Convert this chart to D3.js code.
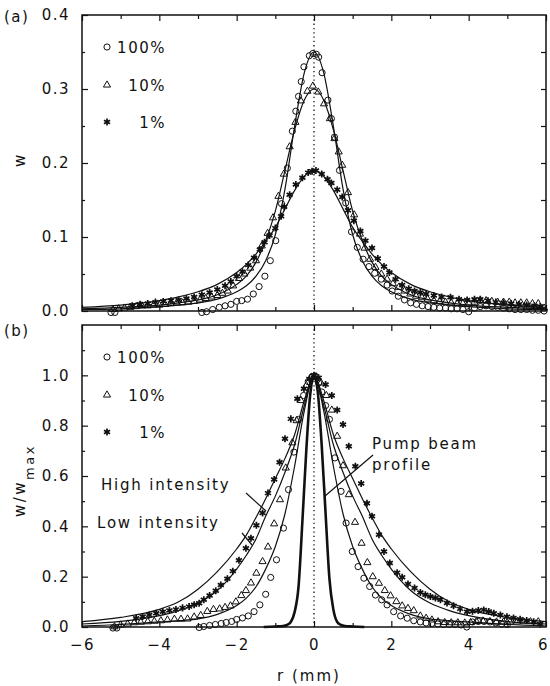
<!DOCTYPE html>
<html>
<head>
<meta charset="utf-8">
<script src="https://cdn.jsdelivr.net/npm/d3@7"></script>
<style>
body { margin: 0; background: #fff; }
svg text { font-family: "DejaVu Sans", sans-serif; font-size: 15px; letter-spacing: 1.5px; fill: #111; }
</style>
</head>
<body>
<svg width="550" height="686"></svg>
<script>
// ---- data ----
var xMajor = [-6, -4, -2, 0, 2, 4, 6],
    xMinor = [-5, -3, -1, 1, 3, 5];
var legendLabels = ["100%", "10%", "1%"];

// fitted curves, (a) absolute and (b) normalised
var rFit = [-6,-5,-4,-3.5,-3,-2.5,-2,-1.75,-1.5,-1.25,-1,-0.75,-0.5,-0.25,0,0.25,0.5,0.75,1,1.25,1.5,1.75,2,2.5,3,3.5,4,5,6];
var aFit100 = [0.002,0.003,0.006,0.008,0.011,0.016,0.026,0.034,0.047,0.068,0.103,0.165,0.25,0.322,0.35,0.322,0.25,0.165,0.103,0.068,0.047,0.034,0.026,0.016,0.011,0.008,0.006,0.003,0.002];
var aFit10 = [0.003,0.005,0.008,0.011,0.015,0.022,0.036,0.047,0.066,0.095,0.135,0.19,0.245,0.285,0.30,0.285,0.245,0.19,0.135,0.095,0.066,0.047,0.036,0.022,0.015,0.011,0.008,0.005,0.003];
var aFit1 = [0.005,0.008,0.014,0.019,0.026,0.036,0.052,0.063,0.077,0.094,0.113,0.138,0.163,0.182,0.19,0.182,0.163,0.138,0.113,0.094,0.077,0.063,0.052,0.036,0.026,0.019,0.014,0.008,0.005];
var bFitOuter = [0.021,0.038,0.07,0.1,0.15,0.22,0.31,0.365,0.435,0.51,0.59,0.67,0.765,0.9,1.0,0.9,0.765,0.67,0.59,0.51,0.435,0.365,0.31,0.22,0.15,0.1,0.07,0.038,0.021];
var bFitMid = [0.012,0.022,0.045,0.065,0.095,0.145,0.23,0.285,0.35,0.44,0.52,0.615,0.725,0.88,1.0,0.88,0.725,0.615,0.52,0.44,0.35,0.285,0.23,0.145,0.095,0.065,0.045,0.022,0.012];
var bFitInner = [0.004,0.01,0.02,0.025,0.032,0.05,0.085,0.115,0.16,0.23,0.32,0.45,0.64,0.86,1.0,0.86,0.64,0.45,0.32,0.23,0.16,0.115,0.085,0.05,0.032,0.025,0.02,0.01,0.004];
var pumpR = [-1.3,-1.0,-0.8,-0.7,-0.6,-0.5,-0.4,-0.3,-0.2,-0.1,0,0.1,0.2,0.3,0.4,0.5,0.6,0.7,0.8,1.0,1.3];
var pumpW = [0,0.002,0.004,0.008,0.02,0.06,0.16,0.42,0.7,0.92,1.0,0.93,0.72,0.45,0.19,0.07,0.02,0.008,0.004,0.002,0];

// (a) measured points
var aCircR = [-5.25,-5.15,-2.9,-2.78,-2.62,-2.45,-2.3,-2.15,-2.0,-1.87,-1.72,-1.57,-1.42,-1.27,-1.13,-0.99,-0.84,-0.69,-0.56,-0.47,-0.4,-0.33,-0.26,-0.12,-0.03,0.06,0.12,0.21,0.36,0.45,0.53,0.66,0.82,0.97,1.12,1.27,1.42,1.57,1.74,1.89,2.02,2.18,2.34,2.5,2.65,2.8,2.95,3.1,3.25,3.4,3.55,3.7,3.85,4.0,4.15,4.3,4.45,4.6,4.75,4.9,5.05,5.2,5.35,5.5,5.65,5.8,5.95];
var aCircW = [-0.002,-0.002,-0.002,-0.001,0.002,0.005,0.007,0.009,0.013,0.014,0.016,0.023,0.033,0.047,0.068,0.095,0.145,0.193,0.243,0.27,0.29,0.31,0.33,0.345,0.348,0.347,0.343,0.322,0.285,0.26,0.235,0.19,0.146,0.107,0.086,0.07,0.06,0.051,0.043,0.035,0.027,0.02,0.015,0.011,0.009,0.007,0.006,0.005,0.004,0.004,0.003,0.003,0.002,-0.001,0.004,0.006,0.007,0.006,0.005,0.004,0.003,0.002,0.002,0.002,0.001,0.001,0.0];
var aTriR = [-5.2,-5.05,-4.9,-4.75,-4.6,-4.45,-4.3,-4.15,-4.0,-3.85,-3.7,-3.55,-3.4,-3.25,-3.1,-2.95,-2.8,-2.65,-2.5,-2.37,-2.23,-2.09,-1.94,-1.8,-1.65,-1.5,-1.35,-1.2,-1.06,-0.92,-0.78,-0.63,-0.48,-0.34,-0.17,-0.03,0.11,0.26,0.41,0.53,0.64,0.73,0.88,1.04,1.19,1.31,1.45,1.59,1.74,1.89,2.04,2.19,2.34,2.49,2.64,2.79,2.94,3.1,3.25,3.4,3.55,3.7,3.85,4.0,4.15,4.3,4.45,4.6,4.75,4.9,5.05,5.2,5.35,5.5,5.65,5.8,5.95];
var aTriW = [0.002,0.003,0.004,0.005,0.006,0.007,0.007,0.008,0.008,0.009,0.01,0.011,0.011,0.012,0.013,0.015,0.017,0.019,0.021,0.024,0.027,0.034,0.044,0.05,0.058,0.068,0.088,0.105,0.126,0.155,0.185,0.222,0.255,0.284,0.297,0.304,0.296,0.28,0.26,0.233,0.215,0.197,0.16,0.13,0.104,0.085,0.07,0.059,0.05,0.043,0.037,0.032,0.027,0.023,0.02,0.018,0.016,0.014,0.013,0.012,0.011,0.01,0.01,0.011,0.012,0.014,0.014,0.013,0.012,0.012,0.012,0.011,0.011,0.011,0.01,0.01,0.004];
var aStarR = [-4.7,-4.5,-4.3,-4.1,-3.9,-3.7,-3.5,-3.3,-3.1,-2.9,-2.7,-2.5,-2.3,-2.15,-2.0,-1.85,-1.7,-1.55,-1.4,-1.28,-1.15,-1.0,-0.85,-0.77,-0.63,-0.47,-0.3,-0.15,-0.05,0.05,0.2,0.35,0.45,0.6,0.73,0.88,1.03,1.2,1.33,1.5,1.65,1.81,1.95,2.11,2.28,2.45,2.6,2.75,2.9,3.1,3.3,3.53,3.75,3.96,4.15,4.3,4.5,4.7,4.9,5.1,5.3,5.5,5.7,5.85];
var aStarW = [0.007,0.009,0.01,0.012,0.013,0.014,0.015,0.017,0.019,0.022,0.025,0.029,0.034,0.04,0.047,0.053,0.062,0.072,0.083,0.093,0.102,0.112,0.128,0.141,0.157,0.171,0.18,0.187,0.189,0.19,0.185,0.178,0.173,0.164,0.154,0.136,0.122,0.108,0.095,0.085,0.071,0.06,0.052,0.043,0.035,0.03,0.027,0.025,0.023,0.021,0.019,0.0185,0.016,0.015,0.016,0.016,0.014,0.012,0.011,0.01,0.009,0.008,0.007,0.006];

// (b) measured points, normalised
var bCircR = [-5.2,-5.1,-2.97,-2.85,-2.7,-2.55,-2.4,-2.27,-2.13,-2.0,-1.85,-1.7,-1.55,-1.4,-1.25,-1.12,-0.97,-0.79,-0.66,-0.52,-0.4,-0.27,-0.15,-0.05,0.05,0.12,0.2,0.3,0.4,0.54,0.7,0.83,0.99,1.14,1.29,1.44,1.59,1.75,1.89,2.06,2.24,2.41,2.58,2.75,2.9,3.05,3.2,3.35,3.5,3.65,3.8,3.95,4.1,4.25,4.4,4.55,4.7,4.85,5.0];
var bCircW = [-0.004,-0.004,-0.002,0.002,0.006,0.01,0.014,0.018,0.022,0.03,0.036,0.044,0.061,0.088,0.13,0.197,0.267,0.393,0.546,0.695,0.825,0.92,0.975,0.995,0.995,0.97,0.934,0.88,0.825,0.672,0.539,0.413,0.3,0.24,0.194,0.161,0.127,0.108,0.088,0.061,0.044,0.035,0.025,0.02,0.016,0.014,0.012,0.01,0.01,0.01,0.008,0.0,0.02,0.022,0.022,0.02,0.016,0.012,0.01];
var bTriR = [-5.16,-5.0,-4.82,-4.65,-4.48,-4.3,-4.13,-3.96,-3.79,-3.61,-3.44,-3.27,-3.1,-2.93,-2.76,-2.6,-2.44,-2.3,-2.16,-2.02,-1.88,-1.76,-1.63,-1.49,-1.33,-1.19,-1.03,-0.88,-0.73,-0.56,-0.45,-0.34,-0.2,-0.08,0.05,0.18,0.32,0.46,0.6,0.75,0.9,1.06,1.23,1.38,1.52,1.68,1.83,1.98,2.13,2.28,2.43,2.58,2.75,2.9,3.05,3.21,3.38,3.55,3.72,3.9,4.05,4.2,4.37,4.55,4.72,4.9,5.07,5.25,5.42,5.6,5.8];
var bTriW = [0.001,0.008,0.012,0.017,0.019,0.021,0.023,0.025,0.028,0.031,0.031,0.032,0.04,0.046,0.062,0.07,0.072,0.078,0.084,0.1,0.125,0.145,0.175,0.214,0.26,0.318,0.41,0.506,0.632,0.732,0.82,0.9,0.96,0.99,0.995,0.97,0.92,0.862,0.758,0.641,0.526,0.416,0.333,0.256,0.2,0.174,0.145,0.124,0.101,0.084,0.074,0.065,0.044,0.035,0.028,0.021,0.018,0.017,0.017,0.016,0.018,0.022,0.024,0.022,0.02,0.02,0.02,0.02,0.021,0.021,0.021];
var bStarR = [-4.6,-4.43,-4.26,-4.08,-3.91,-3.74,-3.57,-3.4,-3.23,-3.1,-2.97,-2.85,-2.7,-2.54,-2.41,-2.24,-2.1,-1.94,-1.76,-1.63,-1.49,-1.33,-1.19,-1.03,-0.89,-0.75,-0.6,-0.43,-0.26,-0.12,0.0,0.12,0.3,0.46,0.6,0.75,0.9,1.07,1.22,1.37,1.5,1.68,1.81,1.96,2.15,2.28,2.43,2.6,2.75,2.88,3.01,3.14,3.27,3.44,3.61,3.78,3.96,4.1,4.25,4.39,4.52,4.65,4.82,4.99,5.16,5.33,5.5,5.68,5.85];
var bStarW = [0.035,0.042,0.048,0.055,0.061,0.066,0.07,0.076,0.081,0.088,0.094,0.108,0.125,0.144,0.167,0.192,0.222,0.265,0.313,0.353,0.404,0.453,0.532,0.586,0.655,0.748,0.827,0.907,0.947,0.985,1.0,0.99,0.964,0.92,0.862,0.805,0.718,0.639,0.57,0.492,0.44,0.367,0.3,0.254,0.216,0.198,0.171,0.155,0.137,0.128,0.121,0.115,0.108,0.095,0.084,0.072,0.061,0.063,0.066,0.068,0.062,0.055,0.048,0.041,0.036,0.031,0.026,0.021,0.012];

// ---- drawing ----
var svg = d3.select("svg");

var x = d3.scaleLinear().domain([-6, 6]).range([82, 546]);
var ya = d3.scaleLinear().domain([0, 0.4]).range([311, 15]);
var yb = d3.scaleLinear().domain([0, 1.2]).range([627, 325]);

var symCircle = d3.symbol().type(d3.symbolCircle).size(30),
    symTri = d3.symbol().type(d3.symbolTriangle).size(22),
    symStar = d3.symbol().type(d3.symbolAsterisk).size(34);

function axes(y, yMajor, yMinor, yRight, labelX) {
    var top = y.range()[1], bot = y.range()[0];
    var fmt = d3.format(".1f");

    // bottom
    var gb = svg.append("g").attr("transform", "translate(0," + bot + ")")
        .call(d3.axisBottom(x).tickValues(xMajor).tickSize(-6).tickPadding(12)
            .tickFormat(labelX ? d3.format("d") : function() { return ""; }));
    // keep the "6" at the right edge inside the page
    gb.selectAll(".tick text").filter(function(d) { return d == 6; }).attr("dx", -3);
    svg.append("g").attr("transform", "translate(0," + bot + ")")
        .call(d3.axisBottom(x).tickValues(xMinor).tickSize(-4).tickFormat(""));
    // top
    svg.append("g").attr("transform", "translate(0," + top + ")")
        .call(d3.axisTop(x).tickValues(xMajor).tickSize(-6).tickFormat(""));
    svg.append("g").attr("transform", "translate(0," + top + ")")
        .call(d3.axisTop(x).tickValues(xMinor).tickSize(-4).tickFormat(""));
    // left
    svg.append("g").attr("transform", "translate(" + x.range()[0] + ",0)")
        .call(d3.axisLeft(y).tickValues(yMajor).tickSize(-6).tickPadding(12).tickFormat(fmt));
    svg.append("g").attr("transform", "translate(" + x.range()[0] + ",0)")
        .call(d3.axisLeft(y).tickValues(yMinor).tickSize(-3).tickFormat(""));
    // right
    svg.append("g").attr("transform", "translate(" + x.range()[1] + ",0)")
        .call(d3.axisRight(y).tickValues(yRight).tickSize(-5).tickFormat(""));

    svg.selectAll(".domain").remove();
    svg.selectAll(".tick line").attr("stroke", "#111").attr("stroke-width", 1.2);

    // frame
    svg.append("rect")
        .attr("x", x.range()[0]).attr("y", top)
        .attr("width", x.range()[1] - x.range()[0]).attr("height", bot - top)
        .attr("fill", "none").attr("stroke", "#111").attr("stroke-width", 1.5);

    // dotted line at r = 0
    svg.append("line")
        .attr("x1", x(0)).attr("x2", x(0)).attr("y1", top).attr("y2", bot)
        .attr("stroke", "#111").attr("stroke-width", 1.3)
        .attr("stroke-dasharray", "1.3,3");
}

function curve(y, rs, ws, width) {
    var line = d3.line()
        .x(function(d) { return x(d[0]); })
        .y(function(d) { return y(d[1]); })
        .curve(d3.curveMonotoneX);
    svg.append("path")
        .datum(d3.zip(rs, ws))
        .attr("d", line)
        .attr("fill", "none")
        .attr("stroke", "#111")
        .attr("stroke-width", width || 1.2);
}

function points(y, rs, ws, sym, star) {
    svg.append("g").selectAll("path")
        .data(d3.zip(rs, ws))
        .enter().append("path")
        .attr("transform", function(d) { return "translate(" + x(d[0]) + "," + y(d[1]) + ")"; })
        .attr("d", sym)
        .attr("fill", star ? "#111" : "none")
        .attr("stroke", "#111")
        .attr("stroke-width", star ? 1.7 : 1);
}

function legend(ys) {
    var syms = [symCircle, symTri, symStar];
    legendLabels.forEach(function(t, i) {
        svg.append("path")
            .attr("transform", "translate(107," + ys[i] + ")")
            .attr("d", syms[i])
            .attr("fill", i == 2 ? "#111" : "none")
            .attr("stroke", "#111")
            .attr("stroke-width", i == 2 ? 1.7 : 1);
        svg.append("text")
            .attr("x", 166).attr("y", ys[i] + 6)
            .attr("text-anchor", "end")
            .text(t);
    });
}

// panel (a)
axes(ya, [0, 0.1, 0.2, 0.3, 0.4], [0.05, 0.15, 0.25, 0.35],
     [0.05, 0.1, 0.15, 0.2, 0.25, 0.3, 0.35], false);
curve(ya, rFit, aFit100);
curve(ya, rFit, aFit10);
curve(ya, rFit, aFit1);
points(ya, aCircR, aCircW, symCircle);
points(ya, aTriR, aTriW, symTri);
points(ya, aStarR, aStarW, symStar, true);
legend([47, 85, 122]);

// panel (b)
axes(yb, [0, 0.2, 0.4, 0.6, 0.8, 1.0], [0.1, 0.3, 0.5, 0.7, 0.9, 1.1],
     [0.1, 0.2, 0.3, 0.4, 0.5, 0.6, 0.7, 0.8, 0.9, 1.0, 1.1], true);
curve(yb, rFit, bFitOuter);
curve(yb, rFit, bFitMid);
curve(yb, rFit, bFitInner);
curve(yb, pumpR, pumpW, 2.6);
points(yb, bCircR, bCircW, symCircle);
points(yb, bTriR, bTriW, symTri);
points(yb, bStarR, bStarW, symStar, true);
legend([357, 395, 432]);

// panel letters, axis titles
svg.append("text").attr("x", 4).attr("y", 22).text("(a)");
svg.append("text").attr("x", 4).attr("y", 336).text("(b)");

svg.append("text")
    .attr("transform", "translate(25,160) rotate(-90)")
    .attr("text-anchor", "middle")
    .text("w");

var wl = svg.append("text")
    .attr("transform", "translate(25,517) rotate(-90)")
    .attr("text-anchor", "start")
    .style("letter-spacing", "2.5px")
    .text("w/w");
wl.append("tspan").attr("dy", 9).style("font-size", "13px").text("max");

svg.append("text").attr("x", 277).attr("y", 681).style("letter-spacing", "2px").text("r  (mm)");

// annotations
svg.append("text").attr("x", 101).attr("y", 490).style("letter-spacing", "1.8px").text("High intensity");
svg.append("text").attr("x", 97).attr("y", 528).style("letter-spacing", "1.8px").text("Low intensity");
svg.append("text").attr("x", 372).attr("y", 449).style("letter-spacing", "1.8px").text("Pump beam");
svg.append("text").attr("x", 372).attr("y", 470).style("letter-spacing", "1.8px").text("profile");

var pointers = [[246, 493, 266, 511], [242, 533, 252, 545], [373, 455, 325, 496]];
svg.selectAll(".ptr").data(pointers).enter().append("line")
    .attr("class", "ptr")
    .attr("x1", function(d) { return d[0]; }).attr("y1", function(d) { return d[1]; })
    .attr("x2", function(d) { return d[2]; }).attr("y2", function(d) { return d[3]; })
    .attr("stroke", "#111").attr("stroke-width", 1.2);
</script>
</body>
</html>
